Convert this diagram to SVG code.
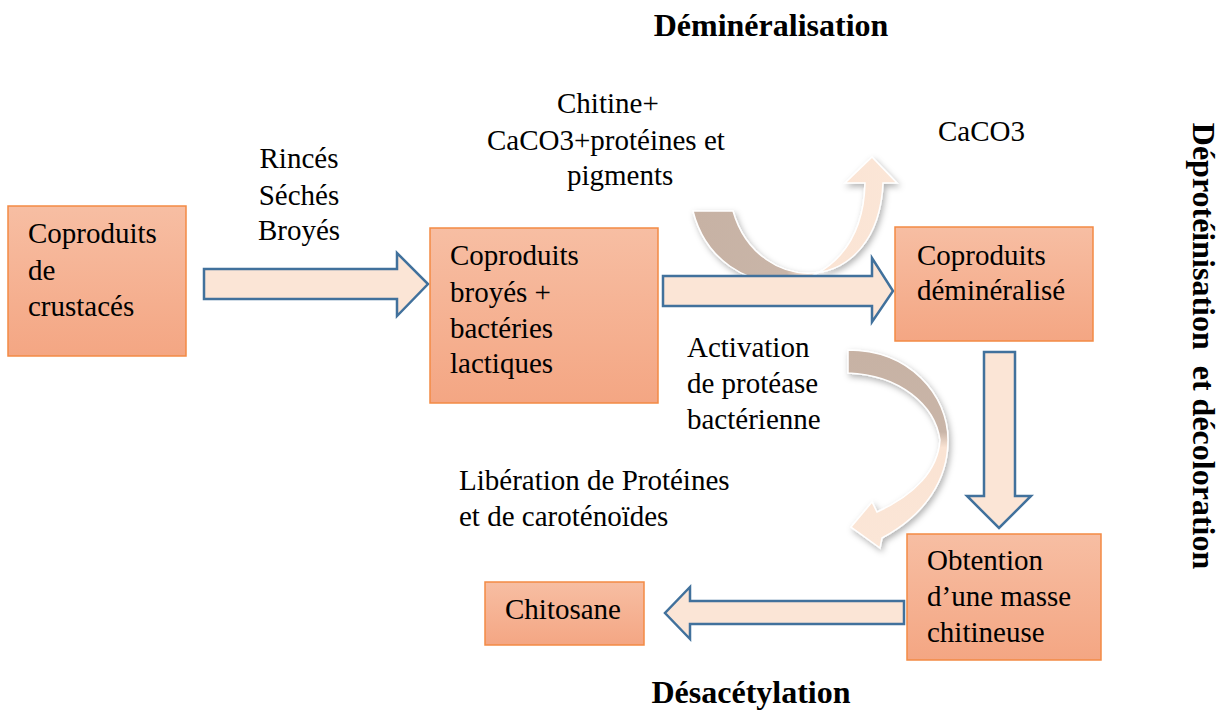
<svg xmlns="http://www.w3.org/2000/svg" width="1227" height="711" viewBox="0 0 1227 711">
<style>
text{font-family:"Liberation Serif","Times New Roman",serif;fill:#000}
.t{font-size:29px}
.b{font-size:32px;font-weight:bold}
.box{fill:url(#boxg);stroke:#f38a44;stroke-width:1.5}
.blk{fill:#fbe5d6;stroke:#41719c;stroke-width:2.5;stroke-linejoin:miter}
.crv{stroke:#ffffff;stroke-width:1.5;filter:url(#sh)}
</style>
<defs>
<linearGradient id="boxg" x1="0" y1="0" x2="0" y2="1">
<stop offset="0" stop-color="#f7bea3"/>
<stop offset="1" stop-color="#f4a683"/>
</linearGradient>
<linearGradient id="c1" gradientUnits="userSpaceOnUse" x1="693" y1="0" x2="897" y2="0">
<stop offset="0" stop-color="#c7b2a4"/>
<stop offset="0.46" stop-color="#c9b5a8"/>
<stop offset="0.54" stop-color="#fae3d3"/>
<stop offset="1" stop-color="#fbe6d7"/>
</linearGradient>
<linearGradient id="c2" gradientUnits="userSpaceOnUse" x1="0" y1="350" x2="0" y2="545">
<stop offset="0" stop-color="#c7b2a4"/>
<stop offset="0.42" stop-color="#c9b5a8"/>
<stop offset="0.5" stop-color="#fae3d3"/>
<stop offset="1" stop-color="#fbe6d7"/>
</linearGradient>
<filter id="sh" x="-20%" y="-20%" width="140%" height="140%">
<feDropShadow dx="2" dy="3" stdDeviation="3" flood-color="#000" flood-opacity="0.3"/>
</filter>
</defs>

<g id="connectors">
<polygon class="blk" points="204,269 397,269 397,253 428,284 397,316 397,299 204,299"/>
<path id="curve-demin" class="crv" fill="url(#c1)" d="M693,211 C718,310 862,310 865,183 L845,183 L872,157 L897,183 L883,183 C878,298 758,298 733,211 Z"/>
<polygon class="blk" points="663,276 872,276 872,258 893,291 872,322 872,306 663,306"/>
<polygon class="blk" points="984,352 1015,352 1015,496 1031,496 999,528 967,496 984,496"/>
<polygon class="blk" points="904,601 690,601 690,587 665,613 690,639 690,624 904,624"/>
<path id="curve-deprot" class="crv" fill="url(#c2)" d="M848,350 C910,350 948,395 948,440 C948,480 925,515 882,538 L880,548 L851,527 L872,502 L877,512 C915,495 938,470 940,440 C935,405 900,375 848,373 Z"/>
</g>

<g id="box-crustaces">
<rect class="box" x="8" y="206" width="178" height="150"/>
<text class="t" x="28" y="243">Coproduits</text>
<text class="t" x="28" y="280">de</text>
<text class="t" x="28" y="316">crustacés</text>
</g>
<g id="box-broyes">
<rect class="box" x="430" y="228" width="228" height="175"/>
<text class="t" x="450" y="265">Coproduits</text>
<text class="t" x="450" y="302">broyés +</text>
<text class="t" x="450" y="338">bactéries</text>
<text class="t" x="450" y="373">lactiques</text>
</g>
<g id="box-demineralise">
<rect class="box" x="895" y="227" width="198" height="114"/>
<text class="t" x="917" y="265">Coproduits</text>
<text class="t" x="917" y="300">déminéralisé</text>
</g>
<g id="box-chitineuse">
<rect class="box" x="907" y="534" width="194" height="126"/>
<text class="t" x="927" y="570">Obtention</text>
<text class="t" x="927" y="606">d’une masse</text>
<text class="t" x="927" y="642">chitineuse</text>
</g>
<g id="box-chitosane">
<rect class="box" x="485" y="582" width="159" height="63"/>
<text class="t" x="505" y="619">Chitosane</text>
</g>

<g id="labels">
<text class="t" x="299" y="168" text-anchor="middle">Rincés</text>
<text class="t" x="299" y="205" text-anchor="middle">Séchés</text>
<text class="t" x="299" y="240" text-anchor="middle">Broyés</text>
<text class="t" x="557" y="113">Chitine+</text>
<text class="t" x="487" y="150">CaCO3+protéines et</text>
<text class="t" x="567" y="185">pigments</text>
<text class="t" x="938" y="141">CaCO3</text>
<text class="t" x="687" y="357">Activation</text>
<text class="t" x="687" y="393">de protéase</text>
<text class="t" x="687" y="429">bactérienne</text>
<text class="t" x="459" y="490">Libération de Protéines</text>
<text class="t" x="459" y="526">et de caroténoïdes</text>
<text class="b" x="771" y="36" text-anchor="middle">Déminéralisation</text>
<text class="b" x="751" y="703" text-anchor="middle">Désacétylation</text>
<text class="b" transform="translate(1193,346) rotate(90)" text-anchor="middle" xml:space="preserve">Déprotéinisation  et décoloration</text>
</g>
</svg>
